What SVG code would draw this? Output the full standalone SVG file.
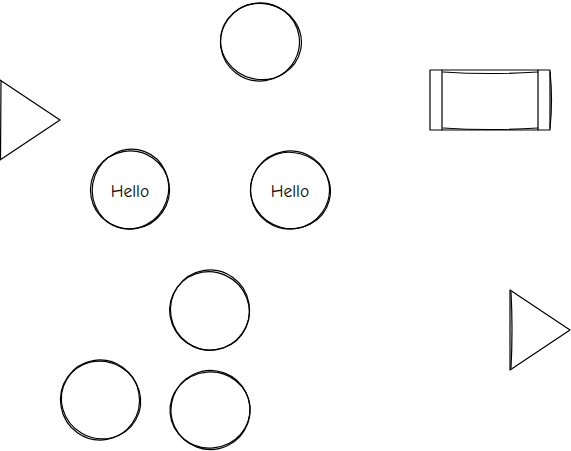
<svg xmlns="http://www.w3.org/2000/svg" width="571" height="451" viewBox="0 0 571 451">
<style>
.s{fill:none;stroke:#000;stroke-width:1.2;stroke-linecap:round;stroke-linejoin:round}
.t{font-family:"Comic Neue","Liberation Sans",sans-serif;font-size:17.5px;fill:#000;text-anchor:middle;dominant-baseline:central}
</style>
<rect width="571" height="451" fill="#fff"/>
<g id="circle-top">
<ellipse class="s" cx="260" cy="42" rx="39.5" ry="39" transform="rotate(-8 260 42)"/>
<ellipse class="s" cx="261" cy="41.5" rx="40.5" ry="38" transform="rotate(12 261 41.5)"/>
</g>
<g id="triangle-left">
<path class="s" d="M0 80 L60 120 L0 160"/>
<path class="s" d="M1 81 L0.5 159"/>
</g>
<g id="process">
<rect class="s" x="430" y="70" width="120" height="60"/>
<path class="s" d="M442 70 L442 130 M538 70 L538 130"/>
<path class="s" d="M443 72 Q490 75 538 72 M443 128 Q490 131 538 128 M550 72 Q553 100 550 128"/>
</g>
<g id="hello-1">
<ellipse class="s" cx="130" cy="190" rx="39.5" ry="39" transform="rotate(-10 130 190)"/>
<ellipse class="s" cx="130.5" cy="189" rx="38" ry="40" transform="rotate(20 130.5 189)"/>
<text class="t" x="130" y="191">Hello</text>
</g>
<g id="hello-2">
<ellipse class="s" cx="290" cy="190" rx="39.5" ry="39" transform="rotate(-10 290 190)"/>
<ellipse class="s" cx="290.5" cy="190.5" rx="40" ry="38" transform="rotate(15 290.5 190.5)"/>
<text class="t" x="290" y="191">Hello</text>
</g>
<g id="circle-mid">
<ellipse class="s" cx="210" cy="310" rx="39.5" ry="40" transform="rotate(-10 210 310)"/>
<ellipse class="s" cx="209.5" cy="311" rx="40" ry="39" transform="rotate(25 209.5 311)"/>
</g>
<g id="circle-bl">
<ellipse class="s" cx="100" cy="400" rx="39.5" ry="40" transform="rotate(-10 100 400)"/>
<ellipse class="s" cx="101" cy="400" rx="40" ry="38.5" transform="rotate(30 101 400)"/>
</g>
<g id="circle-br">
<ellipse class="s" cx="210" cy="410" rx="40" ry="38" transform="rotate(-5 210 410)"/>
<ellipse class="s" cx="210.5" cy="410" rx="39.5" ry="39.5" transform="rotate(20 210.5 410)"/>
</g>
<g id="triangle-right">
<path class="s" d="M510 290 L570 330 L510 370 Z"/>
<path class="s" d="M511 292 Q513 330 511 368"/>
</g>
<g id="connectors"></g>
</svg>
